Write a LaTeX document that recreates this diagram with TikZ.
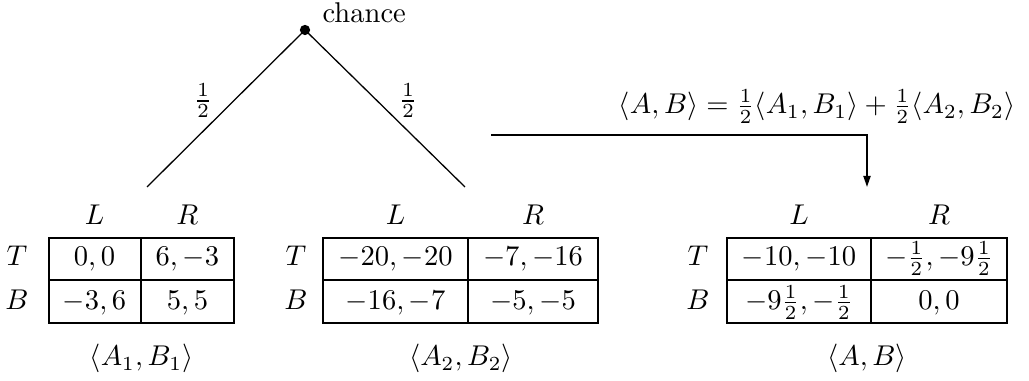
\documentclass[tikz,border=0pt]{standalone}
\usetikzlibrary{arrows.meta}
\begin{document}
\begin{tikzpicture}[x=0.35pt,y=-0.35pt,
  lbl/.style={inner sep=0pt,anchor=base},
  grid/.style={line width=0.7pt},
  tree/.style={line width=0.45pt},
  arr/.style={line width=0.6pt,-{Triangle[length=3.9pt,width=2.5pt]}}]
\useasboundingbox (0,0) rectangle (1029,381);
% chance node and tree
\node[circle,fill,inner sep=0pt,minimum size=3.6pt] (ch) at (305,30) {};
\node[lbl,anchor=base west] (chl) at (322,23) {chance};
\coordinate (e1) at (147,187);
\coordinate (e2) at (465,187);
\draw[tree] (ch.center) -- (e1);
\draw[tree] (ch.center) -- (e2);
\node (p1) at (203,101) {$\frac12$};
\node (p2) at (408,101) {$\frac12$};
% combination arrow
\node[lbl] (form) at (817,114) {$\langle A,B\rangle=\frac12\langle A_1,B_1\rangle+\frac12\langle A_2,B_2\rangle$};
\coordinate (as) at (491,135);
\coordinate (ae) at (867,187);
\draw[arr] (as) -| (ae);
% table 1
\draw[grid] (48.5,238) rectangle (234.2,323.5);
\draw[grid] (140.5,238) -- (140.5,323.5);
\draw[grid] (48.5,280.5) -- (234.2,280.5);
\node[lbl] (aL) at (94.5,225) {$L$};
\node[lbl] (aR) at (187.4,225) {$R$};
\node[lbl] (aT) at (17,266) {$T$};
\node[lbl] (aB) at (17,309.5) {$B$};
\node[lbl] (a11) at (94.5,266) {$0,0$};
\node[lbl] (a12) at (187.4,266) {$6,-3$};
\node[lbl] (a21) at (94.5,309.5) {$-3,6$};
\node[lbl] (a22) at (187.4,309.5) {$5,5$};
\node[lbl] (acap) at (141.5,366) {$\langle A_1,B_1\rangle$};
% table 2
\draw[grid] (323,238) rectangle (598,323.5);
\draw[grid] (468,238) -- (468,323.5);
\draw[grid] (323,280.5) -- (598,280.5);
\node[lbl] (bL) at (395.5,225) {$L$};
\node[lbl] (bR) at (533,225) {$R$};
\node[lbl] (bT) at (296,266) {$T$};
\node[lbl] (bB) at (296,309.5) {$B$};
\node[lbl] (b11) at (395.5,266) {$-20,-20$};
\node[lbl] (b12) at (533,266) {$-7,-16$};
\node[lbl] (b21) at (395.5,309.5) {$-16,-7$};
\node[lbl] (b22) at (533,309.5) {$-5,-5$};
\node[lbl] (bcap) at (461,366) {$\langle A_2,B_2\rangle$};
% table 3
\draw[grid] (727,238) rectangle (1007,323.5);
\draw[grid] (871,238) -- (871,323.5);
\draw[grid] (727,280.5) -- (1007,280.5);
\node[lbl] (cL) at (799,225) {$L$};
\node[lbl] (cR) at (939,225) {$R$};
\node[lbl] (cT) at (698,266) {$T$};
\node[lbl] (cB) at (698,309.5) {$B$};
\node[lbl] (c11) at (799,266) {$-10,-10$};
\node[lbl] (c12) at (939,266) {$-\frac12,-9\frac12$};
\node[lbl] (c21) at (799,309.5) {$-9\frac12,-\frac12$};
\node[lbl] (c22) at (939,309.5) {$0,0$};
\node[lbl] (ccap) at (867,366) {$\langle A,B\rangle$};
\end{tikzpicture}
\end{document}
